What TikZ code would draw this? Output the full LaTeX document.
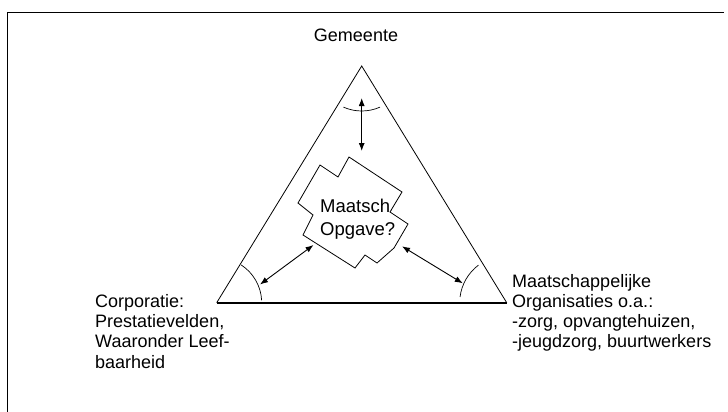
\documentclass[tikz,border=0pt]{standalone}
\usepackage{fontspec}
\setmainfont{Liberation Sans}
\usetikzlibrary{arrows.meta}

\begin{document}
\begin{tikzpicture}[x=1pt,y=-1pt,
    party/.style={font=\fontsize{18}{20.3}\selectfont,align=left,anchor=base west,inner sep=0pt},
    link/.style={{Latex[length=8pt,width=6pt]}-{Latex[length=8pt,width=6pt]},line width=0.9pt},
    anglearc/.style={line width=0.7pt}]
      \useasboundingbox (0,0) rectangle (728,412);
      \draw[line width=1.2pt] (7.3,412) -- (7.3,12.3) -- (724,12.3);

      % driehoek
      \coordinate (gem) at (361.7,66);
      \coordinate (corp) at (216.7,302.7);
      \coordinate (org) at (506.7,302.7);
      \draw[line width=0.8pt] (corp) -- (gem) -- (org);
      \draw[line width=1.6pt] (corp) -- (org);
      \draw[anglearc] ([shift={(66:45)}]gem) arc[start angle=66,end angle=114,radius=45];
      \draw[anglearc] ([shift={(-57:45)}]corp) arc[start angle=-57,end angle=-3,radius=45];
      \draw[anglearc] ([shift={(187:47)}]org) arc[start angle=187,end angle=233,radius=47];

      % teksten (base = laatste regel)
      \node[party,anchor=base] (gemeente) at (356,41.5) {Gemeente};
      \node[party] (corporatie) at (95,368.2) {Corporatie:\\Prestatievelden,\\Waaronder Leef-\\baarheid};
      \node[party] (maatsch) at (512,347.9) {Maatschappelijke\\Organisaties o.a.:\\-zorg, opvangtehuizen,\\-jeugdzorg, buurtwerkers};

      % maatschappelijke opgave
      \foreach[count=\i] \x/\y in {349/157,402/192,390/212,408/224,394/248,377/263,365/255,
                                   355/268,303/235,313/215,298/203,320/165,338/177}
        \coordinate (o\i) at (\x,\y);
      \begin{scope}
        \clip (o1) \foreach \i in {2,...,13} {-- (o\i)} -- cycle;
        \node[party,font=\fontsize{18.5}{22.3}\selectfont] (opgave) at (320,235) {Maatsch.\\Opgave?};
      \end{scope}
      \draw[line width=0.8pt] (o1) \foreach \i in {2,...,13} {-- (o\i)} -- cycle;

      \coordinate (g1) at (361.7,98);   \coordinate (g2) at (361.7,151);
      \coordinate (c1) at (260,284.5);  \coordinate (c2) at (313.5,245);
      \coordinate (m1) at (462.8,283.3); \coordinate (m2) at (402,246.3);
      \draw[link] (g1) -- (g2);
      \draw[link] (c1) -- (c2);
      \draw[link] (m1) -- (m2);
    \end{tikzpicture}
\end{document}
